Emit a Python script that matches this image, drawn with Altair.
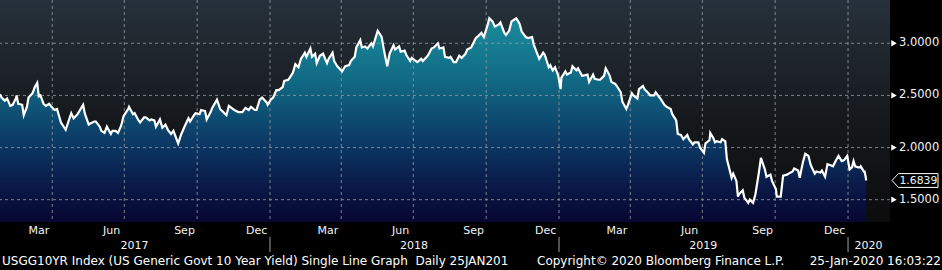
import altair as alt
import pandas as pd

# ---------------- data ----------------
dates = [
 "2017-01-25","2017-01-27","2017-01-31","2017-02-03","2017-02-07","2017-02-10","2017-02-14","2017-02-15",
 "2017-02-17","2017-02-22","2017-02-24","2017-02-28","2017-03-02","2017-03-07","2017-03-10","2017-03-13",
 "2017-03-15","2017-03-17","2017-03-21","2017-03-24","2017-03-28","2017-03-31","2017-04-04","2017-04-07",
 "2017-04-12","2017-04-18","2017-04-21","2017-04-25","2017-04-28","2017-05-03","2017-05-10","2017-05-12",
 "2017-05-17","2017-05-19","2017-05-24","2017-05-26","2017-05-31","2017-06-02","2017-06-06","2017-06-09",
 "2017-06-14","2017-06-16","2017-06-20","2017-06-23","2017-06-27","2017-06-30","2017-07-06","2017-07-07",
 "2017-07-12","2017-07-14","2017-07-19","2017-07-21","2017-07-26","2017-07-28","2017-08-02","2017-08-04",
 "2017-08-08","2017-08-10","2017-08-15","2017-08-18","2017-08-22","2017-08-25","2017-08-29","2017-09-01",
 "2017-09-07","2017-09-11","2017-09-15","2017-09-20","2017-09-22","2017-09-27","2017-09-29","2017-10-04",
 "2017-10-06","2017-10-11","2017-10-13","2017-10-18","2017-10-20","2017-10-26","2017-10-30","2017-11-03",
 "2017-11-07","2017-11-10","2017-11-15","2017-11-17","2017-11-22","2017-11-27","2017-12-01","2017-12-05",
 "2017-12-08","2017-12-13","2017-12-15","2017-12-19","2017-12-22","2017-12-28","2017-12-29",
 "2018-01-02","2018-01-05","2018-01-09","2018-01-12","2018-01-17","2018-01-19","2018-01-24","2018-01-26",
 "2018-01-30","2018-02-02","2018-02-06","2018-02-09","2018-02-14","2018-02-16","2018-02-21","2018-02-23",
 "2018-02-27","2018-03-01","2018-03-05","2018-03-09","2018-03-14","2018-03-16","2018-03-21","2018-03-23",
 "2018-03-27","2018-04-02","2018-04-06","2018-04-11","2018-04-13","2018-04-18","2018-04-20","2018-04-25",
 "2018-04-27","2018-05-01","2018-05-04","2018-05-09","2018-05-11","2018-05-15","2018-05-17","2018-05-22",
 "2018-05-25","2018-05-29","2018-06-01","2018-06-06","2018-06-08","2018-06-13","2018-06-15","2018-06-20",
 "2018-06-22","2018-06-27","2018-06-29","2018-07-06","2018-07-11","2018-07-13","2018-07-18","2018-07-20",
 "2018-07-24","2018-07-27","2018-08-01","2018-08-03","2018-08-08","2018-08-10","2018-08-15","2018-08-17",
 "2018-08-21","2018-08-24","2018-08-28","2018-08-31","2018-09-05","2018-09-07","2018-09-12","2018-09-14",
 "2018-09-18","2018-09-21","2018-09-25","2018-09-28","2018-10-03","2018-10-05","2018-10-09","2018-10-12",
 "2018-10-17","2018-10-19","2018-10-24","2018-10-26","2018-10-30","2018-11-02","2018-11-08","2018-11-12",
 "2018-11-15","2018-11-20","2018-11-23","2018-11-28","2018-11-30","2018-12-04","2018-12-07","2018-12-12",
 "2018-12-14","2018-12-19","2018-12-21","2018-12-24","2018-12-27","2018-12-31",
 "2019-01-03","2019-01-04","2019-01-09","2019-01-11","2019-01-16","2019-01-18","2019-01-23","2019-01-25",
 "2019-01-30","2019-02-01","2019-02-06","2019-02-08","2019-02-13","2019-02-15","2019-02-20","2019-02-22",
 "2019-02-27","2019-03-01","2019-03-06","2019-03-08","2019-03-13","2019-03-15","2019-03-20","2019-03-22",
 "2019-03-27","2019-03-29","2019-04-03","2019-04-05","2019-04-10","2019-04-12","2019-04-17","2019-04-19",
 "2019-04-24","2019-04-26","2019-05-01","2019-05-03","2019-05-08","2019-05-10","2019-05-14","2019-05-17",
 "2019-05-22","2019-05-24","2019-05-29","2019-05-31","2019-06-04","2019-06-07","2019-06-12","2019-06-14",
 "2019-06-19","2019-06-21","2019-06-26","2019-06-28","2019-07-03","2019-07-05","2019-07-10","2019-07-11",
 "2019-07-15","2019-07-17","2019-07-19","2019-07-24","2019-07-26","2019-07-30","2019-08-01","2019-08-02",
 "2019-08-07","2019-08-09","2019-08-13","2019-08-15","2019-08-16","2019-08-21","2019-08-23","2019-08-28",
 "2019-08-30","2019-09-03","2019-09-06","2019-09-10","2019-09-13","2019-09-18","2019-09-20","2019-09-25",
 "2019-09-27","2019-10-02","2019-10-03","2019-10-08","2019-10-11","2019-10-16","2019-10-18","2019-10-23",
 "2019-10-25","2019-10-30","2019-11-01","2019-11-05","2019-11-08","2019-11-12","2019-11-15","2019-11-20",
 "2019-11-22","2019-11-27","2019-11-29","2019-12-03","2019-12-06","2019-12-10","2019-12-13","2019-12-17",
 "2019-12-20","2019-12-24","2019-12-27","2019-12-31",
 "2020-01-03","2020-01-06","2020-01-08","2020-01-10","2020-01-14","2020-01-16","2020-01-17","2020-01-21",
 "2020-01-22","2020-01-23","2020-01-24",
]
yields = [
 2.51,2.48,2.45,2.47,2.40,2.41,2.47,2.50,
 2.42,2.41,2.31,2.39,2.48,2.52,2.58,2.62,
 2.49,2.50,2.42,2.40,2.42,2.39,2.36,2.37,
 2.24,2.17,2.24,2.33,2.28,2.32,2.41,2.33,
 2.22,2.23,2.25,2.25,2.20,2.16,2.14,2.20,
 2.13,2.16,2.16,2.14,2.21,2.30,2.37,2.39,
 2.32,2.33,2.26,2.24,2.29,2.29,2.26,2.27,
 2.26,2.20,2.27,2.19,2.22,2.17,2.13,2.16,
 2.04,2.13,2.20,2.28,2.25,2.31,2.33,2.32,
 2.36,2.35,2.27,2.34,2.38,2.46,2.37,2.34,
 2.31,2.40,2.37,2.36,2.34,2.34,2.38,2.36,
 2.39,2.36,2.36,2.46,2.48,2.43,2.41,
 2.46,2.48,2.55,2.55,2.58,2.64,2.65,2.67,
 2.72,2.80,2.77,2.85,2.91,2.87,2.95,2.87,
 2.90,2.81,2.88,2.90,2.81,2.85,2.91,2.83,
 2.78,2.73,2.78,2.79,2.83,2.87,2.96,3.03,
 2.96,2.97,2.95,3.00,2.97,3.07,3.12,3.06,
 2.93,2.78,2.90,2.98,2.94,2.97,2.92,2.93,
 2.89,2.83,2.86,2.82,2.85,2.83,2.87,2.89,
 2.95,2.96,3.00,2.95,2.96,2.87,2.86,2.87,
 2.82,2.82,2.88,2.86,2.90,2.94,2.96,2.99,
 3.05,3.07,3.10,3.06,3.18,3.24,3.21,3.16,
 3.18,3.20,3.10,3.08,3.12,3.21,3.24,3.19,
 3.11,3.06,3.05,3.06,2.99,2.91,2.85,2.91,
 2.89,2.77,2.79,2.74,2.77,2.69,
 2.56,2.67,2.73,2.70,2.72,2.78,2.74,2.76,
 2.69,2.69,2.70,2.63,2.70,2.66,2.65,2.65,
 2.69,2.76,2.69,2.63,2.61,2.59,2.53,2.44,
 2.37,2.41,2.52,2.50,2.47,2.56,2.59,2.56,
 2.52,2.50,2.50,2.53,2.48,2.46,2.41,2.39,
 2.37,2.32,2.26,2.13,2.12,2.08,2.12,2.08,
 2.03,2.05,2.05,2.00,1.95,2.04,2.07,2.14,
 2.09,2.05,2.06,2.05,2.08,2.06,1.89,1.86,
 1.71,1.75,1.68,1.53,1.55,1.59,1.52,1.47,
 1.50,1.47,1.55,1.74,1.90,1.79,1.72,1.74,
 1.68,1.60,1.53,1.53,1.73,1.74,1.75,1.77,
 1.80,1.78,1.71,1.86,1.94,1.92,1.83,1.75,
 1.77,1.76,1.78,1.72,1.84,1.83,1.82,1.88,
 1.92,1.87,1.88,1.92,
 1.79,1.81,1.87,1.82,1.81,1.81,1.82,1.77,
 1.77,1.73,1.6839,
]
last_value = 1.6839

y_ticks = [1.5, 1.75, 2.0, 2.25, 2.5, 2.75, 3.0, 3.25]
y_major = [1.5, 2.0, 2.5, 3.0]
y_major_labels = ["1.5000", "2.0000", "2.5000", "3.0000"]
month_ticks = [
 "2017-02-01","2017-03-01","2017-04-01","2017-05-01","2017-06-01","2017-07-01","2017-08-01","2017-09-01",
 "2017-10-01","2017-11-01","2017-12-01","2018-01-01","2018-02-01","2018-03-01","2018-04-01","2018-05-01",
 "2018-06-01","2018-07-01","2018-08-01","2018-09-01","2018-10-01","2018-11-01","2018-12-01","2019-01-01",
 "2019-02-01","2019-03-01","2019-04-01","2019-05-01","2019-06-01","2019-07-01","2019-08-01","2019-09-01",
 "2019-10-01","2019-11-01","2019-12-01","2020-01-01","2020-02-01",
]
quarter_grid = ["2017-04-01","2017-07-01","2017-10-01","2018-01-01","2018-04-01","2018-07-01","2018-10-01",
                "2019-01-01","2019-04-01","2019-07-01","2019-10-01","2020-01-01"]
month_label_dates = ["2017-03-15","2017-06-15","2017-09-15","2017-12-15","2018-03-15","2018-06-15",
                     "2018-09-15","2018-12-15","2019-03-15","2019-06-15","2019-09-15","2019-12-15"]
month_labels = ["Mar","Jun","Sep","Dec","Mar","Jun","Sep","Dec","Mar","Jun","Sep","Dec"]
year_label_dates = ["2017-07-14","2018-07-02","2019-07-02","2020-01-27"]
year_labels = ["2017","2018","2019","2020"]
year_breaks = ["2018-01-01","2019-01-01","2020-01-01"]
x_domain = ["2017-01-25","2020-02-23"]
y_domain = [1.286, 3.415]

footer_left = "USGG10YR Index (US Generic Govt 10 Year Yield) Single Line Graph\u00a0\u00a0Daily 25JAN201"
footer_mid = "Copyright\u00a9 2020 Bloomberg Finance L.P."
footer_right = "25-Jan-2020 16:03:22"

# ---------------- chart ----------------
W, H = 890, 222
FONT = "DejaVu Sans"
TXT = "#f2f4f7"

def ms(s):
    return int(pd.Timestamp(s, tz="UTC").value // 10**6)

df = pd.DataFrame({"date": dates, "value": yields})
one = pd.DataFrame({"k": [0]})

xscale = alt.Scale(domain=[ms(d) for d in x_domain])
yscale = alt.Scale(domain=y_domain, zero=False, nice=False)

bg = alt.Chart(one).mark_rect(
    fill=alt.Gradient(gradient="linear", x1=0, x2=0, y1=0, y2=1,
                      stops=[alt.GradientStop(color="#26313b", offset=0),
                             alt.GradientStop(color="#15181b", offset=0.55),
                             alt.GradientStop(color="#0c0c0d", offset=1)])
).encode(x=alt.value(0), x2=alt.value(W), y=alt.value(0), y2=alt.value(H))

area = alt.Chart(df).mark_area(
    fill=alt.Gradient(gradient="linear", x1=0, x2=0, y1=0, y2=1,
                      stops=[alt.GradientStop(color="#1a8c9c", offset=0),
                             alt.GradientStop(color="#116a84", offset=0.3),
                             alt.GradientStop(color="#0c3a66", offset=0.6),
                             alt.GradientStop(color="#0a1a48", offset=0.82),
                             alt.GradientStop(color="#060630", offset=1)])
).encode(
    x=alt.X("date:T", scale=xscale, title=None,
            axis=alt.Axis(values=[ms(d) for d in month_ticks], labels=False, grid=False,
                          tickSize=4, tickWidth=1.5, tickColor="white",
                          domainColor="white", domainWidth=2, title=None)),
    y=alt.Y("value:Q", scale=yscale, title=None,
            axis=alt.Axis(orient="right", values=y_ticks, grid=False, title=None,
                          labels=False, tickSize=3, tickWidth=1.5, tickColor="white",
                          domainColor="white", domainWidth=2)),
    y2=alt.datum(y_domain[0]),
)

hgrid = alt.Chart(pd.DataFrame({"v": y_major})).mark_rule(
    color="#8d969e", strokeDash=[3, 3], strokeWidth=1, opacity=0.85
).encode(y=alt.Y("v:Q", scale=yscale, axis=None))

vgrid = alt.Chart(pd.DataFrame({"d": quarter_grid})).mark_rule(
    color="#8d969e", strokeDash=[3, 3], strokeWidth=1, opacity=0.85
).encode(x=alt.X("d:T", scale=xscale, axis=None))

line = alt.Chart(df).mark_line(color="white", strokeWidth=2.2).encode(
    x=alt.X("date:T", scale=xscale, axis=None),
    y=alt.Y("value:Q", scale=yscale, axis=None),
)

major_df = pd.DataFrame({"v": y_major, "t": y_major_labels})
arrows = alt.Chart(major_df).mark_point(
    shape="triangle-right", filled=True, color="white", size=40, opacity=1
).encode(x=alt.value(894), y=alt.Y("v:Q", scale=yscale, axis=None))
ylabels = alt.Chart(major_df).mark_text(
    align="left", baseline="middle", font=FONT, fontSize=11.5, color=TXT
).encode(x=alt.value(899), y=alt.Y("v:Q", scale=yscale, axis=None), text="t:N")

tag_path = "M -1 0 L -0.72 -0.3 L 1 -0.3 L 1 0.3 L -0.72 0.3 Z"
last_df = pd.DataFrame({"v": [last_value], "t": [f"{last_value:.4f}"]})
tag = alt.Chart(last_df).mark_point(
    shape=tag_path, size=2116, filled=True, fill="black", stroke="white",
    strokeWidth=1, opacity=1
).encode(x=alt.value(915), y=alt.Y("v:Q", scale=yscale, axis=None))
tag_text = alt.Chart(last_df).mark_text(
    align="left", baseline="middle", font=FONT, fontSize=10.8, color=TXT
).encode(x=alt.value(899.5), y=alt.Y("v:Q", scale=yscale, axis=None), text="t:N")

months = alt.Chart(pd.DataFrame({"d": month_label_dates, "t": month_labels})).mark_text(
    baseline="middle", align="center", font=FONT, fontSize=11, color=TXT
).encode(x=alt.X("d:T", scale=xscale, axis=None), y=alt.value(231), text="t:N")

years = alt.Chart(pd.DataFrame({"d": year_label_dates, "t": year_labels})).mark_text(
    baseline="middle", align="center", font=FONT, fontSize=11, color=TXT
).encode(x=alt.X("d:T", scale=xscale, axis=None), y=alt.value(245.5), text="t:N")

year_sep = alt.Chart(pd.DataFrame({"d": year_breaks})).mark_rule(
    color="#a0a0a0", strokeWidth=1
).encode(x=alt.X("d:T", scale=xscale, axis=None), y=alt.value(237), y2=alt.value(252))

foot_l = alt.Chart(one).mark_text(align="left", baseline="middle", font=FONT, fontSize=12,
                                  color="white", text=footer_left).encode(
    x=alt.value(2), y=alt.value(261))
foot_m = alt.Chart(one).mark_text(align="left", baseline="middle", font=FONT, fontSize=12,
                                  color="white", text=footer_mid).encode(
    x=alt.value(537), y=alt.value(261))
foot_r = alt.Chart(one).mark_text(align="right", baseline="middle", font=FONT, fontSize=12,
                                  color="white", text=footer_right).encode(
    x=alt.value(941), y=alt.value(261))

chart = alt.layer(
    bg, area, hgrid, vgrid, line, arrows, ylabels, tag, tag_text,
    months, years, year_sep, foot_l, foot_m, foot_r
).properties(
    width=W, height=H,
    padding={"left": 0, "top": 0, "right": 52, "bottom": 48},
    autosize=alt.AutoSizeParams(type="none"),
    background="black",
).configure_view(stroke=None)

chart.save("out.html", embed_options={"renderer": "svg", "actions": False})
